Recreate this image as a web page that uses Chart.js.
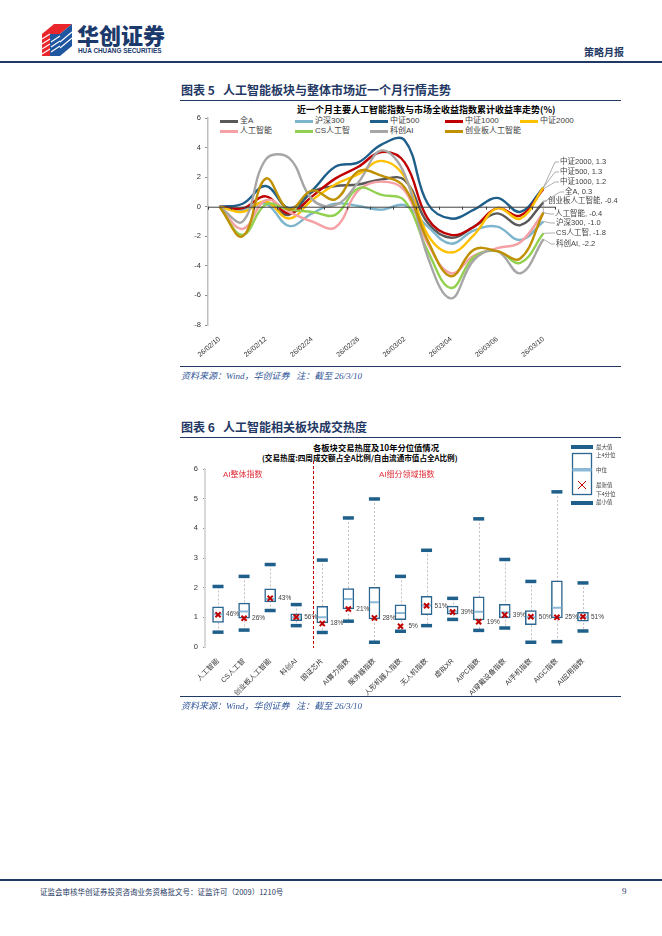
<!DOCTYPE html>
<html><head><meta charset="utf-8">
<script src="https://cdn.jsdelivr.net/npm/chart.js@4.4.1/dist/chart.umd.min.js"></script>
<style>
html,body{margin:0;padding:0;background:#fff}
body{width:662px;height:936px;position:relative;overflow:hidden;font-family:"Liberation Sans","Noto Sans CJK SC",sans-serif}
.a{position:absolute;white-space:nowrap;line-height:1}
.hl{position:absolute;background:#1F3864}
.ttl{font-family:"Noto Sans CJK SC",sans-serif;font-weight:bold;font-size:12px;color:#1F3864}
.src{font-family:"Liberation Serif","Noto Sans CJK SC",serif;font-style:italic;font-size:9px;color:#2F5597}
.ct{font-family:"Noto Sans CJK SC",sans-serif;font-weight:bold;color:#000}
.lg{font-size:8px;color:#404040;font-family:"Liberation Sans","Noto Sans CJK SC",sans-serif}
.sw{position:absolute;height:2.5px}
canvas{position:absolute}
</style></head><body>

<!-- header -->
<svg class="a" style="left:40px;top:22px" width="34" height="36" viewBox="0 0 34 36">
  <polygon points="2,12 14,2 32,2 20,12" fill="#E8262B"/>
  <polygon points="2,12 20,12 20,34 2,34" fill="#E8262B"/>
  <polygon points="20,12 32,2 32,24 20,34" fill="#1E56A0"/>
  <polygon points="10,12 20,12 20,34 10,34" fill="#1E56A0"/>
  <g stroke="#fff" stroke-width="1.1">
    <line x1="2" y1="17" x2="10" y2="12"/><line x1="2" y1="22" x2="10" y2="17"/>
    <line x1="2" y1="27" x2="10" y2="22"/><line x1="2" y1="32" x2="10" y2="27"/>
    <line x1="11" y1="20" x2="20" y2="14"/><line x1="11" y1="25" x2="20" y2="19"/>
    <line x1="11" y1="30" x2="20" y2="24"/><line x1="20" y1="20" x2="32" y2="10"/>
    <line x1="20" y1="26" x2="32" y2="16"/>
  </g>
</svg>
<div class="a" style="left:77px;top:23px;font-family:'Noto Sans CJK SC';font-weight:900;font-size:22px;color:#1B3A6B;letter-spacing:0px">华创证券</div>
<div class="a" style="left:78px;top:48px;font-family:'Liberation Sans';font-weight:bold;font-size:6.4px;color:#1B3A6B">HUA CHUANG SECURITIES</div>
<div class="a" style="left:584px;top:47px;font-family:'Noto Sans CJK SC';font-weight:bold;font-size:10px;color:#1F3864">策略月报</div>
<div class="hl" style="left:0;top:61px;width:662px;height:2px"></div>

<!-- chart 5 -->
<div class="a ttl" style="left:181px;top:84px">图表 5&nbsp;&nbsp;&nbsp;人工智能板块与整体市场近一个月行情走势</div>
<div class="hl" style="left:180px;top:100px;width:441px;height:1px"></div>
<div class="a ct" style="left:297px;top:105px;font-size:9px">近一个月主要人工智能指数与市场全收益指数累计收益率走势(%)</div>
<div id="lg5"></div>
<canvas id="c5" width="462" height="257" style="left:180px;top:103px"></canvas>
<div class="hl" style="left:180px;top:366px;width:441px;height:1px"></div>
<div class="a src" style="left:181px;top:372px">资料来源：Wind，华创证券&nbsp;&nbsp;&nbsp;注：截至 26/3/10</div>

<!-- chart 6 -->
<div class="a ttl" style="left:181px;top:421px">图表 6&nbsp;&nbsp;&nbsp;人工智能相关板块成交热度</div>
<div class="hl" style="left:180px;top:437px;width:441px;height:1px"></div>
<div class="a ct" style="left:313px;top:443px;font-size:8.3px">各板块交易热度及10年分位值情况</div>
<div class="a ct" style="left:262px;top:454px;font-size:7.6px">(交易热度:四周成交额占全A比例/自由流通市值占全A比例)</div>
<canvas id="c6" width="482" height="258" style="left:180px;top:440px"></canvas>
<div class="hl" style="left:180px;top:696px;width:441px;height:1px"></div>
<div class="a src" style="left:181px;top:702px">资料来源：Wind，华创证券&nbsp;&nbsp;&nbsp;注：截至 26/3/10</div>

<!-- footer -->
<div class="hl" style="left:0;top:879px;width:662px;height:1.5px"></div>
<div class="a" style="left:40px;top:888px;font-family:'Noto Sans CJK SC';font-size:7.5px;color:#1F3864">证监会审核华创证券投资咨询业务资格批文号：证监许可（2009）1210号</div>
<div class="a" style="left:622px;top:887px;font-family:'Liberation Serif';font-size:9px;color:#1F3864">9</div>

<script>
// ---------- Chart 5 data ----------
const dates = ['26/02/10','26/02/11','26/02/12','26/02/13','26/02/24','26/02/25','26/02/26','26/02/27','26/03/02','26/03/03','26/03/04','26/03/05','26/03/06','26/03/09','26/03/10'];
const seriesNames = ['全A','沪深300','中证500','中证1000','中证2000','人工智能','CS人工智','科创AI','创业板人工智能'];
const quanA  = [0,-0.2,0.3,-0.55,1.0,1.4,1.5,1.85,1.8,-1.1,-2.1,-1.35,-0.45,-1.25,0.3];
const hs300  = [0,-0.2,0.2,-1.3,-0.45,0.2,0.05,-0.2,0.1,-1.35,-2.5,-1.6,-1.35,-2.25,-1.0];
const zz500  = [0,0.2,1.4,-0.1,1.1,2.7,3.0,4.2,4.5,0.2,-0.8,-0.2,0.6,-0.35,1.3];
const zz1000 = [0,-0.1,0.7,-0.45,0.7,1.9,2.7,3.7,3.0,-0.8,-1.9,-1.35,-0.1,-0.6,1.2];
const zz2000 = [0,-0.35,0.35,-0.8,0.45,1.5,2.2,3.1,2.0,-1.9,-3.1,-1.9,-0.1,-0.8,1.3];
const rgzn   = [0,-1.5,0.45,-0.35,-1.0,-1.4,1.1,1.7,1.1,-2.5,-4.5,-3.3,-2.8,-2.4,-0.4];
const csrgz  = [0,-1.9,0.15,-0.2,-0.35,-0.55,1.25,0.8,0.4,-3.0,-5.5,-3.4,-3.0,-3.8,-1.8];
const kcai   = [0,-1.0,3.2,3.3,0.5,0.1,1.65,3.8,2.2,-3.4,-6.2,-3.6,-3.0,-4.5,-2.2];
const cybai  = [0,-2.0,1.9,-0.2,1.1,0.5,2.4,2.1,1.3,-2.3,-4.7,-2.9,-3.0,-3.5,-0.4];
const y5Ticks = [6,4,2,0,-2,-4,-6,-8];

// ---------- Chart 6 data ----------
const sectors = ['人工智能','CS人工智','创业板人工智能','科创AI','国证芯片','AI算力指数','服务器指数','人形机器人指数','无人机指数','虚拟XR','AIPC指数','AI穿戴设备指数','AI手机指数','AIGC指数','AI应用指数'];
const maxV    = [2.04,2.38,2.78,1.43,2.93,4.35,4.99,2.38,3.26,1.64,4.32,2.95,2.21,5.23,2.16];
const q3V     = [1.35,1.48,1.96,1.12,1.37,1.97,2.01,1.42,1.71,1.38,1.69,1.44,1.23,2.23,1.17];
const medV    = [1.10,1.20,1.62,1.00,1.00,1.62,1.51,1.15,1.40,1.20,1.19,1.17,1.00,1.32,1.00];
const q1V     = [0.83,0.97,1.52,0.89,0.81,1.28,0.95,0.92,1.09,1.11,0.91,0.98,0.75,0.98,0.87];
const minV    = [0.50,0.57,1.23,0.72,0.49,0.87,0.16,0.53,0.72,0.93,0.56,0.64,0.16,0.18,0.54];
const latestV = [1.09,0.97,1.64,1.01,0.79,1.28,0.98,0.70,1.39,1.18,0.85,1.08,1.02,1.00,1.02];
const pctLabels = ['46%','26%','43%','56%','18%','21%','28%','5%','51%','39%','19%','39%','50%','25%','51%'];

const FONT = "'Liberation Sans','Noto Sans CJK SC',sans-serif";

// ---------- Chart 5 ----------
const colors5 = ['#595959','#7DB6CC','#1F5F8B','#C00000','#FFC000','#F4A0A4','#92D050','#A6A6A6','#BF9000'];
const values5 = [quanA,hs300,zz500,zz1000,zz2000,rgzn,csrgz,kcai,cybai];

(function(){
  const lg = document.getElementById('lg5');
  let h='';
  seriesNames.forEach((n,i)=>{
    const col=i<5?i:i-5, row=i<5?0:1;
    const x=220+col*75, y=118+row*10;
    h+=`<div class="sw" style="left:${x}px;top:${y+2}px;width:18px;background:${colors5[i]}"></div>`;
    h+=`<div class="a lg" style="left:${x+20}px;top:${y-1}px">${n}</div>`;
  });
  lg.innerHTML=h;
})();

const endLabelPos = {
  '中证2000':[380,59],'中证500':[380,69],'中证1000':[380,79],'全A':[385,89],
  '创业板人工智能':[368,98],'人工智能':[375,111],'沪深300':[376,120],'CS人工智':[376,130],'科创AI':[376,141]
};

const zeroLinePlugin = {
  id:'zeroLine',
  afterDatasetsDraw(chart){
    const {ctx, chartArea, scales} = chart;
    const y = scales.y.getPixelForValue(0);
    ctx.save();
    ctx.strokeStyle='#404040'; ctx.lineWidth=1;
    ctx.beginPath(); ctx.moveTo(chartArea.left,y+0.5); ctx.lineTo(chartArea.right,y+0.5); ctx.stroke();
    const n = dates.length, w=(chartArea.right-chartArea.left)/n;
    for(let k=0;k<=n;k++){
      const x=Math.round(chartArea.left+k*w)+0.5;
      ctx.beginPath(); ctx.moveTo(x,y); ctx.lineTo(x,y+3); ctx.stroke();
    }
    ctx.font = "7.5px "+FONT; ctx.textBaseline='middle'; ctx.fillStyle='#404040';
    seriesNames.forEach((name,i)=>{
      const meta = chart.getDatasetMeta(i);
      const pt = meta.data[meta.data.length-1];
      const [lx,ly] = endLabelPos[name];
      const v = values5[i][values5[i].length-1];
      ctx.strokeStyle='#8C8C8C'; ctx.lineWidth=0.7;
      ctx.beginPath(); ctx.moveTo(pt.x,pt.y); ctx.lineTo(lx-5,ly); ctx.lineTo(lx-1,ly); ctx.stroke();
      ctx.fillText(name+', '+v.toFixed(1), lx, ly);
    });
    ctx.restore();
  }
};

new Chart(document.getElementById('c5'),{
  type:'line',
  data:{labels:dates, datasets: seriesNames.map((n,i)=>({
    label:n, data:values5[i], borderColor:colors5[i], backgroundColor:colors5[i],
    borderWidth:2.4, pointRadius:0, tension:0.4, fill:false, order:20-i
  }))},
  options:{
    responsive:false, animation:false, devicePixelRatio:1,
    layout:{padding:{top:15,right:87,left:0,bottom:0}},
    plugins:{legend:{display:false},tooltip:{enabled:false},title:{display:false}},
    scales:{
      x:{type:'category', offset:true,
        grid:{display:false}, border:{display:false},
        ticks:{autoSkip:false, maxRotation:40, minRotation:40, color:'#333', font:{size:7,family:FONT}, padding:2,
          callback:(v,i)=> (i%2===0? dates[i]:'')},
        afterFit:(s)=>{s.height=35;}
      },
      y:{min:-8,max:6,
        afterBuildTicks:(s)=>{s.ticks=y5Ticks.map(v=>({value:v}));},
        grid:{drawOnChartArea:false, drawTicks:true, tickLength:3, color:'#8C8C8C'},
        border:{display:true,color:'#BFBFBF',width:1.5},
        ticks:{color:'#333',font:{size:7.5,family:FONT},padding:4},
        afterFit:(s)=>{s.width=28;}
      }
    }
  },
  plugins:[zeroLinePlugin]
});

// ---------- Chart 6 ----------
const BOX='#2B6690', CAP='#1F5F8B', MED='#8CB9D8', RED='#C00000';
const boxPlugin = {
  id:'boxExtras',
  beforeDatasetsDraw(chart){
    const {ctx, scales} = chart;
    ctx.save();
    ctx.strokeStyle='#C8BCC6'; ctx.lineWidth=1; ctx.setLineDash([2,2]);
    sectors.forEach((s,i)=>{
      const x=Math.round(scales.x.getPixelForValue(i))+0.5;
      ctx.beginPath(); ctx.moveTo(x,scales.y.getPixelForValue(maxV[i])); ctx.lineTo(x,scales.y.getPixelForValue(minV[i])); ctx.stroke();
    });
    ctx.restore();
  },
  afterDatasetsDraw(chart){
    const {ctx, scales, chartArea} = chart;
    ctx.save();
    const xd = Math.round((scales.x.getPixelForValue(3)*0.35+scales.x.getPixelForValue(4)*0.65))+0.5;
    ctx.strokeStyle='#C00000'; ctx.lineWidth=1; ctx.setLineDash([3,2]);
    ctx.beginPath(); ctx.moveTo(xd,chartArea.top-8); ctx.lineTo(xd,chartArea.bottom+1); ctx.stroke();
    ctx.setLineDash([]);
    ctx.font="6.5px "+FONT; ctx.fillStyle='#404040'; ctx.textBaseline='middle';
    sectors.forEach((s,i)=>{
      ctx.fillText(pctLabels[i], scales.x.getPixelForValue(i)+8, scales.y.getPixelForValue(latestV[i]));
    });
    ctx.font="8px "+FONT; ctx.fillStyle='#E0303A';
    ctx.fillText('AI整体指数', 43, 35);
    ctx.fillText('AI细分领域指数', 199, 35);
    const lx=391, tx=416;
    ctx.fillStyle=CAP; ctx.fillRect(lx,5,22,4);
    ctx.fillStyle='#fff'; ctx.strokeStyle=BOX; ctx.lineWidth=1.3;
    ctx.strokeRect(lx+1.5,13.5,19,41);
    ctx.fillStyle=MED; ctx.fillRect(lx+1.5,28,19,3.5);
    ctx.strokeStyle=RED; ctx.lineWidth=1;
    ctx.beginPath(); ctx.moveTo(lx+7,41); ctx.lineTo(lx+15,49); ctx.moveTo(lx+15,41); ctx.lineTo(lx+7,49); ctx.stroke();
    ctx.fillStyle=CAP; ctx.fillRect(lx,61,22,4);
    ctx.fillStyle='#404040'; ctx.font="5.5px "+FONT;
    [['最大值',7],['上4分位',15],['中位',30],['最新值',45],['下4分位',54],['最小值',62]].forEach(([t,y])=>ctx.fillText(t,tx,y));
    ctx.restore();
  }
};

new Chart(document.getElementById('c6'),{
  type:'bar',
  data:{labels:sectors, datasets:[
    {type:'line', label:'最新值', data:latestV, showLine:false, pointStyle:'crossRot', pointRadius:3.6, pointBorderWidth:2, pointBorderColor:RED, pointBackgroundColor:RED, order:1},
    {type:'line', label:'最大值', data:maxV, showLine:false, pointStyle:'line', pointRadius:5.5, pointBorderWidth:3.5, pointBorderColor:CAP, order:2},
    {type:'line', label:'最小值', data:minV, showLine:false, pointStyle:'line', pointRadius:5.5, pointBorderWidth:3.5, pointBorderColor:CAP, order:2},
    {type:'line', label:'中位', data:medV, showLine:false, pointStyle:'line', pointRadius:4.5, pointBorderWidth:2, pointBorderColor:MED, order:3},
    {type:'bar', label:'上/下4分位', data:q1V.map((v,i)=>[v,q3V[i]]), backgroundColor:'#fff', borderColor:BOX, borderWidth:1.5, borderSkipped:false, barThickness:11, order:4}
  ]},
  options:{
    responsive:false, animation:false, devicePixelRatio:1,
    layout:{padding:{top:29,right:66,left:0,bottom:0}},
    plugins:{legend:{display:false},tooltip:{enabled:false}},
    scales:{
      x:{offset:true, grid:{display:false}, border:{display:false},
        ticks:{autoSkip:false,maxRotation:45,minRotation:45,color:'#333',font:{size:7,family:FONT},padding:2},
        afterFit:(s)=>{s.height=51;}
      },
      y:{min:0,max:6,
        ticks:{stepSize:1,color:'#333',font:{size:7.5,family:FONT},padding:5},
        grid:{drawOnChartArea:false,drawTicks:true,tickLength:2,color:'#8C8C8C'},
        border:{display:true,color:'#D9D9D9',width:2},
        afterFit:(s)=>{s.width=25;}
      }
    }
  },
  plugins:[boxPlugin]
});
</script>
</body></html>
